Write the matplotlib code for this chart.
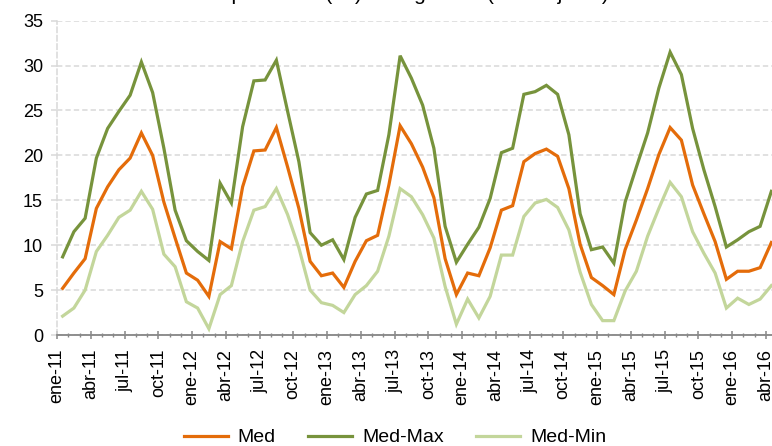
import numpy as np
import matplotlib
matplotlib.use('Agg')
import matplotlib.pyplot as plt
from matplotlib.ticker import MultipleLocator

plt.rcParams['font.family'] = ['Liberation Sans', 'DejaVu Sans']

# monthly values, ene-11 .. abr-16
med = [5.2, 6.9, 8.5, 14.1, 16.5, 18.4, 19.7, 22.5, 20.0, 14.8, 10.8, 6.9,
       6.1, 4.3, 10.4, 9.6, 16.5, 20.5, 20.6, 23.1, 18.7, 14.1, 8.2, 6.6,
       6.9, 5.3, 8.2, 10.5, 11.1, 16.7, 23.3, 21.3, 18.7, 15.3, 8.5, 4.5,
       6.9, 6.6, 9.7, 13.9, 14.4, 19.3, 20.2, 20.7, 19.9, 16.3, 10.1, 6.4,
       5.5, 4.5, 9.5, 12.8, 16.3, 20.1, 23.1, 21.7, 16.7, 13.5, 10.4, 6.2,
       7.1, 7.1, 7.5, 10.3]
med_max = [8.7, 11.5, 13.0, 19.7, 23.0, 24.9, 26.7, 30.4, 27.0, 20.8, 13.9, 10.5,
           9.3, 8.3, 16.9, 14.7, 23.2, 28.3, 28.4, 30.6, 24.9, 19.3, 11.4, 10.0,
           10.6, 8.4, 13.1, 15.7, 16.1, 22.3, 31.1, 28.6, 25.6, 20.8, 12.1, 8.1,
           10.1, 12.0, 15.2, 20.3, 20.8, 26.8, 27.1, 27.8, 26.8, 22.3, 13.5, 9.5,
           9.8, 8.0, 14.8, 18.7, 22.5, 27.5, 31.5, 29.0, 23.0, 18.4, 14.3, 9.8,
           10.6, 11.5, 12.1, 16.0]
med_min = [2.1, 3.0, 5.0, 9.3, 11.1, 13.1, 13.9, 16.0, 14.0, 9.0, 7.6, 3.7,
           3.0, 0.7, 4.5, 5.5, 10.4, 13.9, 14.3, 16.3, 13.4, 9.7, 5.0, 3.6,
           3.3, 2.5, 4.5, 5.5, 7.1, 11.0, 16.3, 15.4, 13.4, 10.8, 5.4, 1.2,
           4.0, 1.9, 4.3, 8.9, 8.9, 13.2, 14.7, 15.1, 14.2, 11.7, 7.0, 3.4,
           1.6, 1.6, 4.9, 7.1, 11.0, 14.1, 17.0, 15.4, 11.5, 9.1, 6.9, 3.0,
           4.1, 3.4, 4.0, 5.5]

months = ['ene', 'abr', 'jul', 'oct']
years = ['11', '12', '13', '14', '15', '16']
tick_labels = ['{}-{}'.format(m, y) for y in years for m in months]

title = 'Temperaturas (ºC) en Algeciras (ene11-jul16)'

W, H = 772, 446
fig = plt.figure(figsize=(W / 100, H / 100), dpi=100)
n = len(med)
left, bottom, top = 57, 335, 20.7
ax = fig.add_axes([left / W, 1 - bottom / H, n * 11.25 / W, (bottom - top) / H])

x = np.arange(n) + 0.5
ax.plot(x, med, color='#E46C0A', lw=2.3, label='Med', solid_joinstyle='miter')
ax.plot(x, med_max, color='#77933C', lw=2.3, label='Med-Max', solid_joinstyle='miter')
ax.plot(x, med_min, color='#C3D69B', lw=2.3, label='Med-Min', solid_joinstyle='miter')

ax.set_xlim(0, n)
ax.set_ylim(0, 35)
ax.yaxis.set_major_locator(MultipleLocator(5))
ax.set_xticks(np.arange(0, n, 3))
ax.set_xticklabels(tick_labels[:len(np.arange(0, n, 3))], rotation=90, va='top', ha='center')
ax.xaxis.set_minor_locator(MultipleLocator(1))

ax.grid(axis='y', color='#D9D9D9', ls=(0, (3.5, 2)), lw=1.1)
ax.set_axisbelow(True)
for s in ['top', 'right']:
    ax.spines[s].set_visible(False)
ax.spines['left'].set_color('#D9D9D9')
ax.spines['left'].set_linestyle((0, (3.5, 2)))
ax.spines['left'].set_linewidth(1.1)
ax.spines['bottom'].set_color('#868686')
ax.spines['bottom'].set_linewidth(1.3)

ax.tick_params(axis='y', length=4.5, color='#D9D9D9', width=1.1, pad=5.5, labelsize=13, labelcolor='#000000')
ax.tick_params(axis='x', which='major', direction='inout', length=6, color='#868686', width=1.1,
               pad=7, labelsize=13)
ax.tick_params(axis='x', which='minor', direction='inout', length=3.5, color='#868686', width=1.0)

# title sits mostly above the visible area, only the descenders show
fig.text(400 / W, 1 + 0.5 / H, title, ha='center', va='baseline', fontsize=15)

fig.legend(loc='center', bbox_to_anchor=(395 / W, 1 - 437.5 / H), ncol=3, frameon=False,
           fontsize=14, handlelength=2.27, handletextpad=0.52, columnspacing=1.65)

fig.savefig('out.png', dpi=100)
